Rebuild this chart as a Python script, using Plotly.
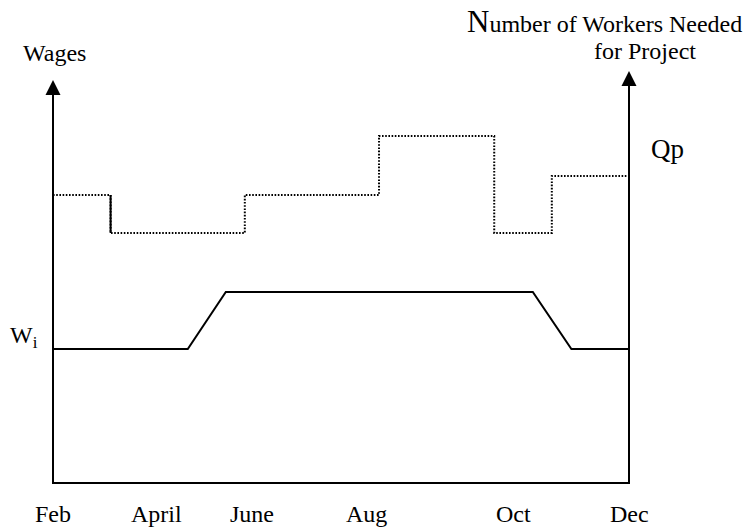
import plotly.graph_objects as go

# ---- data (schematic units) ----
month_labels = ["Feb", "April", "June", "Aug", "Oct", "Dec"]
month_pos = [0, 1.8, 3.45, 5.45, 7.99, 10]

# Workers needed for project (Qp) - step series
qp_breaks = [0, 1, 3.33, 5.66, 7.66, 8.66, 10]
qp_levels = [7.2, 6.25, 7.2, 8.675, 6.25, 7.675]

# Wage path (Wi)
wage_x = [0, 2.34, 3.0, 8.33, 9.0, 10]
wage_y = [3.35, 3.35, 4.775, 4.775, 3.35, 3.35]

left_axis_top = 10.075
right_axis_top = 10.3

FONT = "Liberation Serif, Times New Roman, serif"

X0, Y0 = 53, 483          # pixel position of the origin in the figure
PX_X, PX_Y = 57.6, 40.0   # pixels per unit
W, H = 746, 527

fig = go.Figure()

qp_x = list(qp_breaks)
qp_y = list(qp_levels) + [qp_levels[-1]]
fig.add_trace(go.Scatter(x=qp_x, y=qp_y, mode="lines", line_shape="hv",
                         line=dict(color="black", width=2, dash="1.6px,1.6px"),
                         hoverinfo="skip", showlegend=False))
fig.add_trace(go.Scatter(x=[qp_breaks[1], qp_breaks[1]], y=[qp_levels[0], qp_levels[1]],
                         mode="lines", line=dict(color="black", width=2),
                         hoverinfo="skip", showlegend=False))
fig.add_trace(go.Scatter(x=wage_x, y=wage_y, mode="lines",
                         line=dict(color="black", width=2),
                         hoverinfo="skip", showlegend=False))
# axes: left vertical, bottom, right vertical
fig.add_trace(go.Scatter(
    x=[month_pos[0], month_pos[0], month_pos[-1], month_pos[-1]],
    y=[left_axis_top - 0.2, 0, 0, right_axis_top - 0.2],
    mode="lines", line=dict(color="black", width=2),
    hoverinfo="skip", showlegend=False))
# arrow heads
fig.add_trace(go.Scatter(
    x=[month_pos[0], month_pos[-1]], y=[left_axis_top, right_axis_top],
    mode="markers", marker=dict(symbol="arrow-up", size=15, color="black",
                                line=dict(width=0)),
    hoverinfo="skip", showlegend=False))

annotations = []

def txt(text, x, y, size=24, xanchor="center"):
    annotations.append(dict(x=x, y=y, xref="x", yref="y", text=text,
                            showarrow=False, xanchor=xanchor, yanchor="middle",
                            font=dict(family=FONT, size=size, color="black")))

txt("Wages", 0.03, 10.74)
txt("<span style='font-size:31px'>N</span>umber of Workers Needed", 12.0, 11.55, xanchor="right")
txt("for Project", 11.2, 10.8, xanchor="right")
txt("Qp", 10.67, 8.35, size=27)
txt("W<sub>i</sub>", -0.23, 3.64, xanchor="right")
for lab, pos in zip(month_labels, month_pos):
    txt(lab, pos, -0.775)

fig.update_layout(
    width=W, height=H, autosize=False,
    margin=dict(l=0, r=0, t=0, b=0, pad=0),
    paper_bgcolor="white", plot_bgcolor="white",
    xaxis=dict(range=[-X0 / PX_X, (W - X0) / PX_X], visible=False, fixedrange=True),
    yaxis=dict(range=[-(H - Y0) / PX_Y, Y0 / PX_Y], visible=False, fixedrange=True),
    annotations=annotations,
    showlegend=False,
)

fig.write_html("out.html", config={"displayModeBar": False},
               post_script="document.body.style.margin='0';document.body.style.overflow='hidden';")
